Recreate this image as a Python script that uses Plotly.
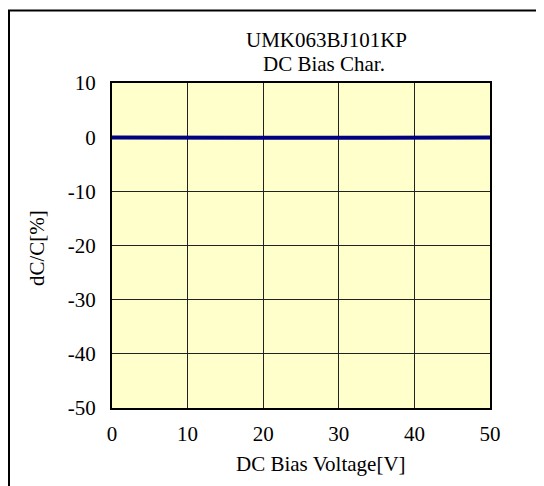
import plotly.graph_objects as go

# Data
bias_voltage = [0, 2.5, 5, 7.5, 10, 12.5, 15, 17.5, 20, 22.5, 25, 27.5, 30, 32.5, 35, 37.5, 40, 42.5, 45, 47.5, 50]
dc_change = [-0.05, -0.08, -0.05, -0.1, -0.07, -0.1, -0.06, -0.1, -0.12, -0.1, -0.15, -0.12, -0.1, -0.13, -0.1, -0.08, -0.05, -0.1, -0.08, -0.1, -0.08]
x_ticks = [0, 10, 20, 30, 40, 50]
y_ticks = [10, 0, -10, -20, -30, -40, -50]
y_tick_labels = ["10", "0", "-10", "-20", "-30", "-40", "-50"]

title_lines = ["UMK063BJ101KP", "DC Bias Char."]
x_title = "DC Bias Voltage[V]"
y_title = "dC/C[%]"

FONT = "Liberation Serif, Times New Roman, serif"

# layout geometry (figure pixels)
W, H = 544, 486
L, R, T, B = 104, 62, 75, 86
PW, PH = W - L - R, H - T - B
OFF = 8  # page body offset


def px(sx):
    return (sx - OFF - L) / PW


def py(sy):
    return (H - B - (sy - OFF)) / PH


fig = go.Figure()
fig.add_trace(go.Scatter(
    x=bias_voltage, y=dc_change, mode="lines",
    line=dict(color="#000080", width=4), showlegend=False,
))

fig.update_layout(
    width=W, height=H,
    margin=dict(l=L, r=R, t=T, b=B),
    paper_bgcolor="white",
    plot_bgcolor="#FFFFCC",
    font=dict(family=FONT, size=21, color="black"),
    xaxis=dict(
        range=[0, 50], tickvals=x_ticks, ticks="", showgrid=True,
        gridcolor="#222222", gridwidth=1, zeroline=False,
        showline=True, linecolor="black", linewidth=2, mirror=True,
        ticklabelstandoff=6,
    ),
    yaxis=dict(
        range=[-50, 10], tickvals=y_ticks, ticktext=y_tick_labels, ticks="",
        showgrid=True, gridcolor="#222222", gridwidth=1, zeroline=False,
        showline=True, linecolor="black", linewidth=2, mirror=True,
        ticklabelstandoff=10,
    ),
)

fig.add_annotation(text=title_lines[0], xref="paper", yref="paper",
                   x=px(326), y=py(40), showarrow=False,
                   xanchor="center", yanchor="middle")
fig.add_annotation(text=title_lines[1], xref="paper", yref="paper",
                   x=px(324), y=py(64), showarrow=False,
                   xanchor="center", yanchor="middle")
fig.add_annotation(text=x_title, xref="paper", yref="paper",
                   x=px(321), y=py(464), showarrow=False,
                   xanchor="center", yanchor="middle")
fig.add_annotation(text=y_title, xref="paper", yref="paper",
                   x=px(37), y=py(248), showarrow=False,
                   textangle=-90, xanchor="center", yanchor="middle")

# Outer frame
fig.add_shape(type="rect", xref="paper", yref="paper",
              x0=px(9), x1=px(570), y0=py(510), y1=py(10.5),
              line=dict(color="black", width=2), layer="below")

fig.write_html("out.html")
